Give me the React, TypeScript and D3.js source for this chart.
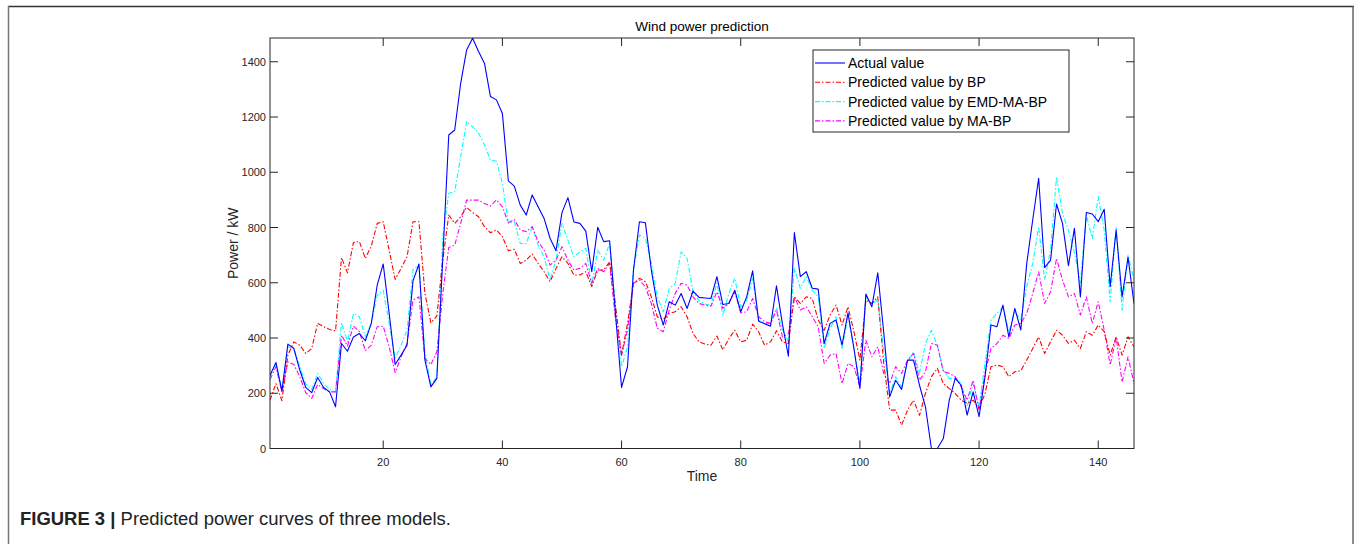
import React from "react";
import * as d3 from "d3";

// time index 1..146, values in kW
const actualValue = [
  265, 311, 208, 378, 362, 284, 221, 202, 257, 221, 205, 151, 380, 352, 404, 416, 390, 453, 592, 668,
  489, 304, 338, 374, 607, 668, 320, 223, 254, 690, 1135, 1153, 1322, 1443, 1485, 1437, 1394, 1274, 1262, 1213,
  969, 950, 881, 845, 918, 875, 833, 761, 716, 854, 908, 820, 815, 787, 640, 801, 749, 752, 483, 221,
  296, 646, 821, 817, 646, 519, 447, 531, 519, 561, 507, 570, 547, 545, 543, 622, 521, 525, 573, 495,
  549, 643, 461, 452, 443, 589, 450, 334, 782, 622, 640, 580, 577, 380, 453, 465, 374, 491, 362, 217,
  559, 513, 636, 420, 187, 247, 214, 320, 320, 229, 151, 0, 0, 36, 175, 254, 229, 121, 205, 115,
  260, 447, 441, 519, 404, 507, 429, 670, 827, 978, 655, 682, 885, 815, 662, 797, 549, 854, 849, 821,
  866, 586, 791, 549, 692, 525,
];

const predictedBP = [
  175, 235, 173, 338, 386, 374, 344, 362, 453, 441, 431, 426, 691, 636, 746, 749, 688, 733, 815, 821,
  718, 612, 652, 694, 821, 821, 561, 455, 479, 682, 845, 815, 839, 873, 854, 839, 803, 781, 791, 767,
  716, 721, 670, 682, 704, 670, 640, 604, 652, 694, 670, 628, 628, 640, 586, 646, 646, 676, 513, 338,
  453, 598, 616, 604, 549, 477, 467, 489, 495, 513, 477, 416, 386, 378, 374, 407, 357, 397, 428, 386,
  392, 450, 423, 374, 386, 426, 386, 380, 549, 525, 549, 543, 465, 428, 483, 519, 447, 513, 423, 320,
  537, 525, 549, 308, 139, 139, 85, 139, 175, 120, 200, 260, 290, 235, 217, 199, 175, 163, 175, 145,
  199, 296, 302, 296, 260, 278, 281, 320, 362, 404, 344, 386, 428, 410, 380, 392, 362, 423, 410, 447,
  423, 338, 404, 338, 404, 368,
];

const predictedEMDMABP = [
  260, 308, 211, 368, 362, 296, 235, 214, 272, 235, 214, 205, 455, 386, 489, 477, 404, 453, 555, 573,
  453, 326, 374, 429, 648, 664, 344, 229, 260, 767, 924, 930, 1056, 1183, 1165, 1141, 1099, 1044, 1040, 960,
  815, 821, 742, 742, 803, 736, 694, 610, 682, 815, 754, 694, 712, 724, 592, 718, 682, 742, 513, 296,
  368, 646, 773, 761, 670, 549, 495, 579, 597, 712, 688, 567, 535, 523, 519, 598, 483, 561, 616, 513,
  537, 616, 465, 453, 453, 507, 430, 386, 652, 580, 622, 573, 549, 362, 435, 477, 362, 477, 362, 235,
  549, 525, 537, 356, 199, 260, 223, 314, 350, 272, 380, 428, 374, 283, 254, 254, 235, 151, 235, 151,
  308, 465, 489, 513, 423, 495, 465, 586, 670, 803, 610, 720, 984, 850, 790, 710, 600, 845, 760, 912,
  790, 531, 800, 501, 700, 610,
];

const predictedMABP = [
  250, 296, 205, 314, 304, 260, 202, 181, 232, 217, 205, 205, 410, 371, 443, 423, 354, 374, 441, 443,
  368, 275, 332, 380, 537, 549, 326, 304, 350, 561, 728, 736, 815, 899, 899, 899, 887, 878, 900, 875,
  817, 829, 791, 785, 803, 749, 718, 664, 682, 730, 682, 646, 652, 670, 598, 652, 640, 670, 465, 338,
  429, 598, 610, 585, 525, 435, 423, 501, 561, 598, 591, 549, 525, 519, 515, 567, 507, 525, 567, 491,
  495, 543, 477, 459, 453, 501, 404, 416, 549, 501, 513, 477, 441, 308, 338, 344, 235, 308, 296, 223,
  392, 332, 368, 272, 235, 296, 272, 320, 344, 247, 278, 380, 374, 278, 272, 260, 223, 175, 247, 139,
  272, 362, 380, 410, 398, 447, 453, 489, 561, 640, 525, 567, 688, 610, 549, 561, 483, 549, 453, 531,
  429, 302, 404, 241, 332, 235,
];

const xTicks = [20, 40, 60, 80, 100, 120, 140];
const yTicks = [0, 200, 400, 600, 800, 1000, 1200, 1400];

const seriesNames = [
  "Actual value",
  "Predicted value by BP",
  "Predicted value by EMD-MA-BP",
  "Predicted value by MA-BP",
];

const W = 1354;
const H = 544;
const left = 270;
const right = 1134;
const top = 38;
const bottom = 448.5;
const axisColor = "#262626";
const font = "'Liberation Sans', Arial, Helvetica, sans-serif";
const dashDot = "5,2,1.5,2";

export default function App() {
  const n = actualValue.length;
  const x = d3.scaleLinear().domain([1, n]).range([left, right]);
  const y = d3.scaleLinear().domain([0, 1486]).range([bottom, top]);

  const line = d3
    .line<number>()
    .x((_, i) => x(i + 1))
    .y((d) => y(d));

  const series = [
    { name: seriesNames[0], data: actualValue, color: "#0000ff", dash: undefined as string | undefined },
    { name: seriesNames[1], data: predictedBP, color: "#ff0000", dash: dashDot },
    { name: seriesNames[2], data: predictedEMDMABP, color: "#00ffff", dash: dashDot },
    { name: seriesNames[3], data: predictedMABP, color: "#ff00ff", dash: dashDot },
  ];

  // draw order: predictions first, actual on top
  const drawOrder = [2, 3, 1, 0];

  const legX = 813;
  const legY = 50;
  const legW = 256;
  const legH = 82;

  return (
    <svg
      width={W}
      height={H}
      style={{ position: "absolute", left: 0, top: 0, background: "#fff" }}
      fontFamily={font}
    >
      {/* figure frame */}
      <line x1={8} y1={6.5} x2={W} y2={6.5} stroke="#333" strokeWidth={1.5} />
      <line x1={8.5} y1={6} x2={8.5} y2={H} stroke="#777" strokeWidth={1.5} />
      <line x1={W - 1} y1={6} x2={W - 1} y2={H} stroke="#666" strokeWidth={1.5} />

      <defs>
        <clipPath id="plot-clip">
          <rect x={left} y={top - 1} width={right - left} height={bottom - top + 2} />
        </clipPath>
      </defs>

      <g clipPath="url(#plot-clip)">
        {drawOrder.map((k) => {
          const s = series[k];
          return (
            <path
              key={s.name}
              d={line(s.data) || ""}
              fill="none"
              stroke={s.color}
              strokeWidth={1.1}
              strokeDasharray={s.dash}
              strokeLinejoin="round"
            />
          );
        })}
      </g>

      {/* axes box */}
      <rect x={left} y={top} width={right - left} height={bottom - top} fill="none" stroke={axisColor} strokeWidth={1} />

      {/* x ticks */}
      {xTicks.map((t) => (
        <g key={"x" + t}>
          <line x1={x(t)} x2={x(t)} y1={bottom} y2={bottom - 8} stroke={axisColor} />
          <line x1={x(t)} x2={x(t)} y1={top} y2={top + 8} stroke={axisColor} />
          <text x={x(t)} y={bottom + 17} textAnchor="middle" fontSize={11} fill={axisColor}>
            {t}
          </text>
        </g>
      ))}

      {/* y ticks */}
      {yTicks.map((t) => (
        <g key={"y" + t}>
          <line x1={left} x2={left + 8} y1={y(t)} y2={y(t)} stroke={axisColor} />
          <line x1={right} x2={right - 8} y1={y(t)} y2={y(t)} stroke={axisColor} />
          <text x={left - 4} y={y(t) + 4} textAnchor="end" fontSize={11} fill={axisColor}>
            {t}
          </text>
        </g>
      ))}

      {/* title and axis labels */}
      <text x={(left + right) / 2} y={31} textAnchor="middle" fontSize={13.5} fill="#000">
        Wind power prediction
      </text>
      <text x={(left + right) / 2} y={481} textAnchor="middle" fontSize={14} fill={axisColor}>
        Time
      </text>
      <text
        transform={`translate(238, ${(top + bottom) / 2}) rotate(-90)`}
        textAnchor="middle"
        fontSize={14}
        fill={axisColor}
      >
        Power / kW
      </text>

      {/* legend */}
      <rect x={legX} y={legY} width={legW} height={legH} fill="#fff" stroke={axisColor} strokeWidth={1} />
      {series.map((s, i) => {
        const ly = legY + 13 + i * 19.3;
        return (
          <g key={"leg" + s.name}>
            <line
              x1={legX + 2}
              x2={legX + 32}
              y1={ly}
              y2={ly}
              stroke={s.color}
              strokeWidth={1.1}
              strokeDasharray={s.dash}
            />
            <text x={legX + 35} y={ly + 5} fontSize={14} fill="#000">
              {s.name}
            </text>
          </g>
        );
      })}

      {/* caption */}
      <text x={20} y={525} fontSize={17.5} fill="#222" textLength={431} lengthAdjust="spacingAndGlyphs">
        <tspan fontWeight="bold">FIGURE 3 | </tspan>
        <tspan>Predicted power curves of three models.</tspan>
      </text>
    </svg>
  );
}
